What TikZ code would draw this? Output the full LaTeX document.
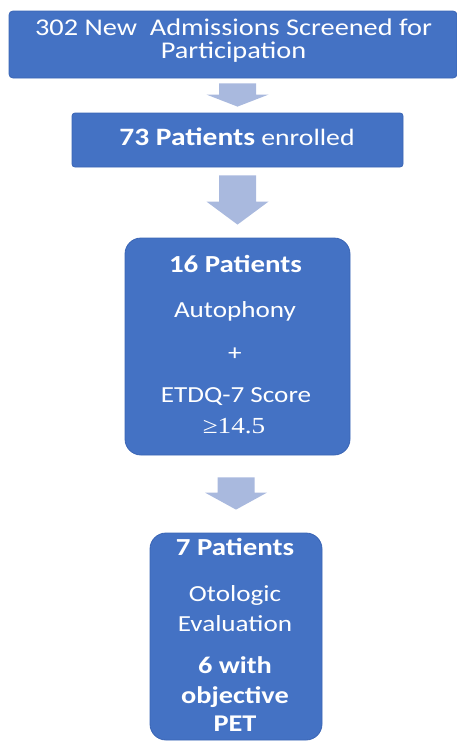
\documentclass[tikz,border=0pt]{standalone}
\usepackage{fontspec}
\setmainfont{Carlito}[FakeStretch=1.18]
\newfontfamily\numserif{Liberation Serif}[FakeStretch=1.18]
\usetikzlibrary{calc}
\definecolor{boxblue}{HTML}{4472C4}
\definecolor{boxedge}{HTML}{3A65B5}
\definecolor{arrowc}{HTML}{A9B9DE}
\tikzset{
  flowbox/.style={draw=boxedge, line width=0.8pt, fill=boxblue, inner sep=0pt},
  boxtext/.style={text=white, inner sep=0pt, align=center, anchor=base},
}
\newcommand\blockarrow[5]{% from, to, top gap, bottom gap, head length
  \fill[arrowc] let \p1=(#1.south), \p2=(#2.north) in
    (\x2-18.5pt,\y1-#3) -- (\x2+18.5pt,\y1-#3) -- (\x2+18.5pt,\y2+#4+#5)
    -- (\x2+31pt,\y2+#4+#5) -- (\x2,\y2+#4) -- (\x2-31pt,\y2+#4+#5)
    -- (\x2-18.5pt,\y2+#4+#5) -- cycle;}
\begin{document}
\begin{tikzpicture}[x=1pt,y=-1pt]
\useasboundingbox (0,0) rectangle (457,744);
% boxes
\node[flowbox, rounded corners=4pt, minimum width=448pt, minimum height=67pt] (b1) at (233,44.5) {};
\node[flowbox, rounded corners=3pt, minimum width=331pt, minimum height=54pt] (b2) at (237.5,140) {};
\node[flowbox, rounded corners=16pt, minimum width=225pt, minimum height=217pt] (b3) at (237.5,346.5) {};
\node[flowbox, rounded corners=16pt, minimum width=172pt, minimum height=207pt] (b4) at (236,636.5) {};
% texts
\node[boxtext, font=\fontsize{24}{23}\selectfont] (t1a) at (233.5,35) {302 New\ \ Admissions Screened for};
\node[boxtext, font=\fontsize{24}{23}\selectfont] (t1b) at (233.5,58) {Participation};
\node[boxtext, font=\fontsize{23.5}{23}\selectfont] (t2) at (237,145) {{\fontsize{25}{23}\selectfont\bfseries 73 Patients} enrolled};
\node[boxtext, font=\fontsize{24.5}{23}\selectfont\bfseries] (t3a) at (235.5,272) {16 Patients};
\node[boxtext, font=\fontsize{23}{23}\selectfont] (t3b) at (235,317) {Autophony};
\node[boxtext, font=\fontsize{23}{23}\selectfont] (t3c) at (235,360) {+};
\node[boxtext, font=\fontsize{23}{23}\selectfont] (t3d) at (236,402) {ETDQ-7 Score};
\node[boxtext, font=\fontsize{23}{23}\selectfont\numserif] (t3e) at (234,433) {≥14.5};
\node[boxtext, font=\fontsize{24.5}{23}\selectfont\bfseries] (t4a) at (235,555) {7 Patients};
\node[boxtext, font=\fontsize{23}{23}\selectfont] (t4b) at (235,601.5) {Otologic};
\node[boxtext, font=\fontsize{23}{23}\selectfont] (t4c) at (235,631.5) {Evaluation};
\node[boxtext, font=\fontsize{24}{23}\selectfont\bfseries] (t4d) at (235,673) {6 with};
\node[boxtext, font=\fontsize{24}{23}\selectfont\bfseries] (t4e) at (235,703) {objective};
\node[boxtext, font=\fontsize{24}{23}\selectfont\bfseries] (t4f) at (235,731.5) {PET};
% block arrows
\blockarrow{b1}{b2}{5pt}{6pt}{12pt}
\blockarrow{b2}{b3}{8pt}{13pt}{23pt}
\blockarrow{b3}{b4}{22pt}{23pt}{17pt}
\end{tikzpicture}
\end{document}
